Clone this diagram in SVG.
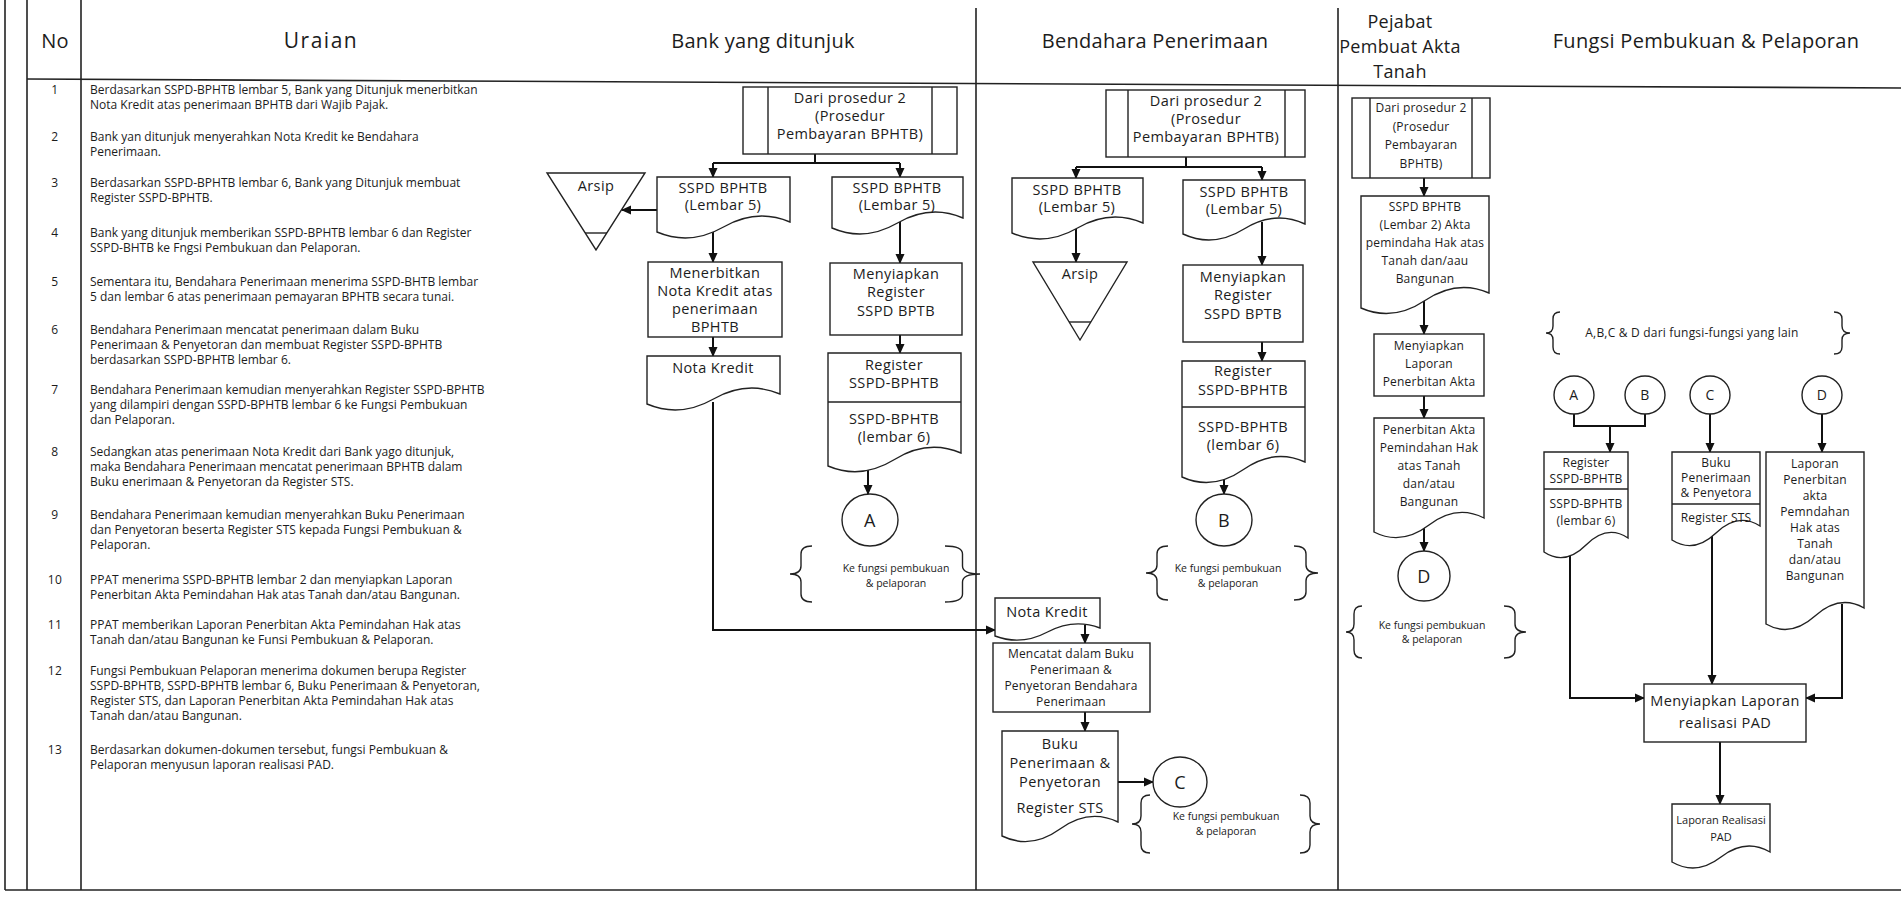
<svg xmlns="http://www.w3.org/2000/svg" width="1901" height="906" viewBox="0 0 1901 906">
<defs>
<marker id="ah" viewBox="0 0 10 10" refX="9" refY="5" markerWidth="10" markerHeight="10" markerUnits="userSpaceOnUse" orient="auto"><path d="M0,0.5 L10,5 L0,9.5 Z" fill="#111"/></marker>
<style>
.fr{fill:none;stroke:#222;stroke-width:1.6}
.s{fill:#fff;stroke:#222;stroke-width:1.4}
.ln{fill:none;stroke:#222;stroke-width:1.4}
.c{fill:none;stroke:#111;stroke-width:2}
.a{marker-end:url(#ah)}
.br{fill:none;stroke:#222;stroke-width:1.4}
text{font-family:"Open Sans","Noto Sans","DejaVu Sans",sans-serif;fill:#1c1c1c;letter-spacing:0.4px}
.h{font-size:20px;text-anchor:middle;letter-spacing:0.3px}
.r{font-size:12px;letter-spacing:0}
.n{font-size:12px;text-anchor:middle}
.b{font-size:14.5px;text-anchor:middle}
.p{font-size:12px;text-anchor:middle;letter-spacing:0.2px}
.k{font-size:10.5px;text-anchor:middle;letter-spacing:0}
.l{font-size:18px;text-anchor:middle}
.ls{font-size:14px;text-anchor:middle}
</style>
</defs>
<rect width="1901" height="906" fill="#fff"/>

<g id="frame">
<path class="fr" d="M5,0 V890"/>
<path class="fr" d="M27,0 V890"/>
<path class="fr" d="M81,0 V890"/>
<path class="fr" d="M27,79 L1901,88"/>
<path class="fr" d="M976,8 V890"/>
<path class="fr" d="M1338,8 V890"/>
<path class="fr" d="M5,890 H1901"/>
</g>

<g id="headers">
<text class="h" x="55" y="48">No</text>
<text class="h" x="321" y="48" style="font-size:21px;letter-spacing:1.5px">Uraian</text>
<text class="h" x="763" y="48">Bank yang ditunjuk</text>
<text class="h" x="1155" y="48">Bendahara Penerimaan</text>
<text class="h" x="1400" y="28" style="font-size:18px">Pejabat<tspan x="1400" dy="25">Pembuat Akta</tspan><tspan x="1400" dy="25">Tanah</tspan></text>
<text class="h" x="1706" y="48">Fungsi Pembukuan &amp; Pelaporan</text>
</g>

<g id="uraian">
<text class="n" x="55" y="94">1</text>
<text class="r" x="90" y="94">Berdasarkan SSPD-BPHTB lembar 5, Bank yang Ditunjuk menerbitkan<tspan x="90" dy="15">Nota Kredit atas penerimaan BPHTB dari Wajib Pajak.</tspan></text>
<text class="n" x="55" y="141">2</text>
<text class="r" x="90" y="141">Bank yan ditunjuk menyerahkan Nota Kredit ke Bendahara<tspan x="90" dy="15">Penerimaan.</tspan></text>
<text class="n" x="55" y="187">3</text>
<text class="r" x="90" y="187">Berdasarkan SSPD-BPHTB lembar 6, Bank yang Ditunjuk membuat<tspan x="90" dy="15">Register SSPD-BPHTB.</tspan></text>
<text class="n" x="55" y="237">4</text>
<text class="r" x="90" y="237">Bank yang ditunjuk memberikan SSPD-BPHTB lembar 6 dan Register<tspan x="90" dy="15">SSPD-BHTB ke Fngsi Pembukuan dan Pelaporan.</tspan></text>
<text class="n" x="55" y="286">5</text>
<text class="r" x="90" y="286">Sementara itu, Bendahara Penerimaan menerima SSPD-BHTB lembar<tspan x="90" dy="15">5 dan lembar 6 atas penerimaan pemayaran BPHTB secara tunai.</tspan></text>
<text class="n" x="55" y="334">6</text>
<text class="r" x="90" y="334">Bendahara Penerimaan mencatat penerimaan dalam Buku<tspan x="90" dy="15">Penerimaan &amp; Penyetoran dan membuat Register SSPD-BPHTB</tspan><tspan x="90" dy="15">berdasarkan SSPD-BPHTB lembar 6.</tspan></text>
<text class="n" x="55" y="394">7</text>
<text class="r" x="90" y="394">Bendahara Penerimaan kemudian menyerahkan Register SSPD-BPHTB<tspan x="90" dy="15">yang dilampiri dengan SSPD-BPHTB lembar 6 ke Fungsi Pembukuan</tspan><tspan x="90" dy="15">dan Pelaporan.</tspan></text>
<text class="n" x="55" y="456">8</text>
<text class="r" x="90" y="456">Sedangkan atas penerimaan Nota Kredit dari Bank yago ditunjuk,<tspan x="90" dy="15">maka Bendahara Penerimaan mencatat penerimaan BPHTB dalam</tspan><tspan x="90" dy="15">Buku enerimaan &amp; Penyetoran da Register STS.</tspan></text>
<text class="n" x="55" y="519">9</text>
<text class="r" x="90" y="519">Bendahara Penerimaan kemudian menyerahkan Buku Penerimaan<tspan x="90" dy="15">dan Penyetoran beserta Register STS kepada Fungsi Pembukuan &amp;</tspan><tspan x="90" dy="15">Pelaporan.</tspan></text>
<text class="n" x="55" y="584">10</text>
<text class="r" x="90" y="584">PPAT menerima SSPD-BPHTB lembar 2 dan menyiapkan Laporan<tspan x="90" dy="15">Penerbitan Akta Pemindahan Hak atas Tanah dan/atau Bangunan.</tspan></text>
<text class="n" x="55" y="629">11</text>
<text class="r" x="90" y="629">PPAT memberikan Laporan Penerbitan Akta Pemindahan Hak atas<tspan x="90" dy="15">Tanah dan/atau Bangunan ke Funsi Pembukuan &amp; Pelaporan.</tspan></text>
<text class="n" x="55" y="675">12</text>
<text class="r" x="90" y="675">Fungsi Pembukuan Pelaporan menerima dokumen berupa Register<tspan x="90" dy="15">SSPD-BPHTB, SSPD-BPHTB lembar 6, Buku Penerimaan &amp; Penyetoran,</tspan><tspan x="90" dy="15">Register STS, dan Laporan Penerbitan Akta Pemindahan Hak atas</tspan><tspan x="90" dy="15">Tanah dan/atau Bangunan.</tspan></text>
<text class="n" x="55" y="754">13</text>
<text class="r" x="90" y="754">Berdasarkan dokumen-dokumen tersebut, fungsi Pembukuan &amp;<tspan x="90" dy="15">Pelaporan menyusun laporan realisasi PAD.</tspan></text>
</g>

<g id="connectors">
<path class="c" d="M815,154 V163"/>
<path class="c" d="M713,163 H900"/>
<path class="c a" d="M713,163 V177"/>
<path class="c a" d="M900,163 V177"/>
<path class="c a" d="M657,210 H622"/>
<path class="c a" d="M713,230 V262"/>
<path class="c a" d="M713,337 V356"/>
<path class="c a" d="M900,222 V263"/>
<path class="c a" d="M900,335 V353"/>
<path class="c a" d="M868,470 V494"/>
<path class="c a" d="M713,402 V630 H995"/>
<path class="c" d="M1186,157 V167"/>
<path class="c" d="M1076,167 H1262"/>
<path class="c a" d="M1076,167 V178"/>
<path class="c a" d="M1262,167 V180"/>
<path class="c a" d="M1076,229 V262"/>
<path class="c a" d="M1262,222 V265"/>
<path class="c a" d="M1262,342 V361"/>
<path class="c a" d="M1224,476 V494"/>
<path class="c a" d="M1085,625 V643"/>
<path class="c a" d="M1085,712 V731"/>
<path class="c a" d="M1118,782 H1153"/>
<path class="c a" d="M1424,178 V196"/>
<path class="c a" d="M1424,300 V334"/>
<path class="c a" d="M1424,396 V418"/>
<path class="c a" d="M1424,525 V551"/>
<path class="c" d="M1574,414 V426 H1645 V414"/>
<path class="c a" d="M1610,426 V452"/>
<path class="c a" d="M1710,414 V452"/>
<path class="c a" d="M1822,414 V452"/>
<path class="c a" d="M1570,556 V698 H1644"/>
<path class="c a" d="M1712,535 V684"/>
<path class="c a" d="M1842,604 V698 H1806"/>
<path class="c a" d="M1720,742 V804"/>
</g>

<g id="bank-dari">
<rect class="s" x="743" y="87" width="214" height="67"/>
<path class="ln" d="M768,87 V154 M932,87 V154"/>
<text class="b" x="850" y="103">Dari prosedur 2<tspan x="850" dy="18">(Prosedur</tspan><tspan x="850" dy="18">Pembayaran BPHTB)</tspan></text>
</g>
<g id="bank-sspd5-a">
<path class="s" d="M657,232 V177 H790 V222 Q756.75,208 723.5,227 Q690.25,246 657,232 Z"/>
<text class="b" x="723" y="193">SSPD BPHTB<tspan x="723" dy="17">(Lembar 5)</tspan></text>
</g>
<g id="bank-arsip">
<path class="s" d="M547,173 H645 L596,250 Z"/>
<path class="ln" d="M585,233 H607"/>
<text class="b" x="596" y="191">Arsip</text>
</g>
<g id="bank-sspd5-b">
<path class="s" d="M832,228 V177 H963 V218 Q930.25,204 897.5,223 Q864.75,242 832,228 Z"/>
<text class="b" x="897" y="193">SSPD BPHTB<tspan x="897" dy="17">(Lembar 5)</tspan></text>
</g>
<g id="bank-menerbitkan">
<rect class="s" x="648" y="262" width="134" height="75"/>
<text class="b" x="715" y="278">Menerbitkan<tspan x="715" dy="18">Nota Kredit atas</tspan><tspan x="715" dy="18">penerimaan</tspan><tspan x="715" dy="18">BPHTB</tspan></text>
</g>
<g id="bank-notakredit">
<path class="s" d="M647,404 V356 H780 V394 Q746.75,380 713.5,399 Q680.25,418 647,404 Z"/>
<text class="b" x="713" y="373">Nota Kredit</text>
</g>
<g id="bank-menyiapkan">
<rect class="s" x="830" y="263" width="132" height="72"/>
<text class="b" x="896" y="279">Menyiapkan<tspan x="896" dy="18">Register</tspan><tspan x="896" dy="19">SSPD BPTB</tspan></text>
</g>
<g id="bank-register">
<path class="s" d="M828,466 V353 H961 V453 Q927.75,439 894.5,459.5 Q861.25,480 828,466 Z"/>
<path class="ln" d="M828,402 H961"/>
<text class="b" x="894" y="370">Register<tspan x="894" dy="18">SSPD-BPHTB</tspan><tspan x="894" dy="36">SSPD-BPHTB</tspan><tspan x="894" dy="18">(lembar 6)</tspan></text>
</g>
<g id="bank-a">
<ellipse class="s" cx="870" cy="520" rx="28" ry="26"/>
<text class="l" x="870" y="527">A</text>
</g>
<g id="bank-ket">
<path class="br" d="M812,546 Q801,546 801,554 V566 Q801,574 790,574 Q801,574 801,582 V594 Q801,602 812,602"/>
<path class="br" d="M945,546 Q962.5,546 962.5,554 V566 Q962.5,574 980,574 Q962.5,574 962.5,582 V594 Q962.5,602 945,602"/>
<text class="k" x="896" y="572">Ke fungsi pembukuan<tspan x="896" dy="15">&amp; pelaporan</tspan></text>
</g>

<g id="bend-dari">
<rect class="s" x="1106" y="90" width="199" height="67"/>
<path class="ln" d="M1128,90 V157 M1285,90 V157"/>
<text class="b" x="1206" y="106">Dari prosedur 2<tspan x="1206" dy="18">(Prosedur</tspan><tspan x="1206" dy="18">Pembayaran BPHTB)</tspan></text>
</g>
<g id="bend-sspd5-a">
<path class="s" d="M1012,233 V178 H1143 V223 Q1110.25,209 1077.5,228 Q1044.75,247 1012,233 Z"/>
<text class="b" x="1077" y="195">SSPD BPHTB<tspan x="1077" dy="17">(Lembar 5)</tspan></text>
</g>
<g id="bend-arsip">
<path class="s" d="M1033,262 H1127 L1080,340 Z"/>
<path class="ln" d="M1069,322 H1091"/>
<text class="b" x="1080" y="279">Arsip</text>
</g>
<g id="bend-sspd5-b">
<path class="s" d="M1183,234 V180 H1305 V224 Q1274.5,210 1244,229 Q1213.5,248 1183,234 Z"/>
<text class="b" x="1244" y="197">SSPD BPHTB<tspan x="1244" dy="17">(Lembar 5)</tspan></text>
</g>
<g id="bend-menyiapkan">
<rect class="s" x="1183" y="265" width="120" height="77"/>
<text class="b" x="1243" y="282">Menyiapkan<tspan x="1243" dy="18">Register</tspan><tspan x="1243" dy="19">SSPD BPTB</tspan></text>
</g>
<g id="bend-register">
<path class="s" d="M1182,477 V361 H1305 V462 Q1274.25,448 1243.5,469.5 Q1212.75,491 1182,477 Z"/>
<path class="ln" d="M1182,407 H1305"/>
<text class="b" x="1243" y="376">Register<tspan x="1243" dy="19">SSPD-BPHTB</tspan><tspan x="1243" dy="37">SSPD-BPHTB</tspan><tspan x="1243" dy="18">(lembar 6)</tspan></text>
</g>
<g id="bend-b">
<ellipse class="s" cx="1224" cy="520" rx="28" ry="26"/>
<text class="l" x="1224" y="527">B</text>
</g>
<g id="bend-ket-1">
<path class="br" d="M1168,546 Q1157,546 1157,554 V565 Q1157,573 1146,573 Q1157,573 1157,581 V592 Q1157,600 1168,600"/>
<path class="br" d="M1294,546 Q1306,546 1306,554 V565 Q1306,573 1318,573 Q1306,573 1306,581 V592 Q1306,600 1294,600"/>
<text class="k" x="1228" y="572">Ke fungsi pembukuan<tspan x="1228" dy="15">&amp; pelaporan</tspan></text>
</g>
<g id="bend-notakredit">
<path class="s" d="M995,636 V598 H1100 V628 Q1073.75,618 1047.5,632 Q1021.25,646 995,636 Z"/>
<text class="b" x="1047" y="617">Nota Kredit</text>
</g>
<g id="bend-mencatat">
<rect class="s" x="993" y="643" width="157" height="69"/>
<text class="p" x="1071" y="658">Mencatat dalam Buku<tspan x="1071" dy="16">Penerimaan &amp;</tspan><tspan x="1071" dy="16">Penyetoran Bendahara</tspan><tspan x="1071" dy="16">Penerimaan</tspan></text>
</g>
<g id="bend-buku">
<path class="s" d="M1002,836 V731 H1118 V822 Q1089,808 1060,829 Q1031,850 1002,836 Z"/>
<text class="b" x="1060" y="749">Buku<tspan x="1060" dy="19">Penerimaan &amp;</tspan><tspan x="1060" dy="19">Penyetoran</tspan><tspan x="1060" dy="26">Register STS</tspan></text>
</g>
<g id="bend-c">
<ellipse class="s" cx="1180" cy="782" rx="27" ry="25"/>
<text class="l" x="1180" y="789">C</text>
</g>
<g id="bend-ket-2">
<path class="br" d="M1150,795 Q1141,795 1141,803 V816 Q1141,824 1132,824 Q1141,824 1141,832 V845 Q1141,853 1150,853"/>
<path class="br" d="M1300,795 Q1310,795 1310,803 V816 Q1310,824 1320,824 Q1310,824 1310,832 V845 Q1310,853 1300,853"/>
<text class="k" x="1226" y="820">Ke fungsi pembukuan<tspan x="1226" dy="15">&amp; pelaporan</tspan></text>
</g>

<g id="ppat-dari">
<rect class="s" x="1352" y="98" width="138" height="80"/>
<path class="ln" d="M1370,98 V178 M1472,98 V178"/>
<text class="p" x="1421" y="112">Dari prosedur 2<tspan x="1421" dy="18.5">(Prosedur</tspan><tspan x="1421" dy="18.5">Pembayaran</tspan><tspan x="1421" dy="18.5">BPHTB)</tspan></text>
</g>
<g id="ppat-sspd2">
<path class="s" d="M1361,308 V196 H1489 V293 Q1457,279 1425,300.5 Q1393,322 1361,308 Z"/>
<text class="p" x="1425" y="211">SSPD BPHTB<tspan x="1425" dy="18">(Lembar 2) Akta</tspan><tspan x="1425" dy="18">pemindaha Hak atas</tspan><tspan x="1425" dy="18">Tanah dan/aau</tspan><tspan x="1425" dy="18">Bangunan</tspan></text>
</g>
<g id="ppat-menyiapkan">
<rect class="s" x="1374" y="334" width="110" height="62"/>
<text class="p" x="1429" y="350">Menyiapkan<tspan x="1429" dy="18">Laporan</tspan><tspan x="1429" dy="18">Penerbitan Akta</tspan></text>
</g>
<g id="ppat-penerbitan">
<path class="s" d="M1374,532 V418 H1484 V518 Q1456.5,504 1429,525 Q1401.5,546 1374,532 Z"/>
<text class="p" x="1429" y="434">Penerbitan Akta<tspan x="1429" dy="18">Pemindahan Hak</tspan><tspan x="1429" dy="18">atas Tanah</tspan><tspan x="1429" dy="18">dan/atau</tspan><tspan x="1429" dy="18">Bangunan</tspan></text>
</g>
<g id="ppat-d">
<ellipse class="s" cx="1424" cy="576" rx="26" ry="25"/>
<text class="l" x="1424" y="583">D</text>
</g>
<g id="ppat-ket">
<path class="br" d="M1362,606 Q1354,606 1354,614 V624 Q1354,632 1346,632 Q1354,632 1354,640 V650 Q1354,658 1362,658"/>
<path class="br" d="M1504,606 Q1515,606 1515,614 V624 Q1515,632 1526,632 Q1515,632 1515,640 V650 Q1515,658 1504,658"/>
<text class="k" x="1432" y="629">Ke fungsi pembukuan<tspan x="1432" dy="14">&amp; pelaporan</tspan></text>
</g>

<g id="fp-ket">
<path class="br" d="M1560,312 Q1553,312 1553,319 V326 Q1553,333 1546,333 Q1553,333 1553,340 V347 Q1553,354 1560,354"/>
<path class="br" d="M1834,312 Q1842,312 1842,319 V326 Q1842,333 1850,333 Q1842,333 1842,340 V347 Q1842,354 1834,354"/>
<text class="p" x="1692" y="337">A,B,C &amp; D dari fungsi-fungsi yang lain</text>
</g>
<g id="fp-a">
<ellipse class="s" cx="1574" cy="395" rx="20" ry="19"/>
<text class="ls" x="1574" y="400">A</text>
</g>
<g id="fp-b">
<ellipse class="s" cx="1645" cy="395" rx="20" ry="19"/>
<text class="ls" x="1645" y="400">B</text>
</g>
<g id="fp-c">
<ellipse class="s" cx="1710" cy="395" rx="20" ry="19"/>
<text class="ls" x="1710" y="400">C</text>
</g>
<g id="fp-d">
<ellipse class="s" cx="1822" cy="395" rx="20" ry="19"/>
<text class="ls" x="1822" y="400">D</text>
</g>
<g id="fp-register">
<path class="s" d="M1544,552 V452 H1628 V538 Q1607,524 1586,545 Q1565,566 1544,552 Z"/>
<path class="ln" d="M1544,489 H1628"/>
<text class="p" x="1586" y="467">Register<tspan x="1586" dy="16">SSPD-BPHTB</tspan><tspan x="1586" dy="25">SSPD-BPHTB</tspan><tspan x="1586" dy="17">(lembar 6)</tspan></text>
</g>
<g id="fp-buku">
<path class="s" d="M1672,540 V452 H1760 V526 Q1738,512 1716,533 Q1694,554 1672,540 Z"/>
<path class="ln" d="M1672,504 H1760"/>
<text class="p" x="1716" y="467">Buku<tspan x="1716" dy="15">Penerimaan</tspan><tspan x="1716" dy="15">&amp; Penyetora</tspan><tspan x="1716" dy="25">Register STS</tspan></text>
</g>
<g id="fp-laporan">
<path class="s" d="M1766,624 V452 H1864 V608 Q1839.5,594 1815,616 Q1790.5,638 1766,624 Z"/>
<text class="p" x="1815" y="468">Laporan<tspan x="1815" dy="16">Penerbitan</tspan><tspan x="1815" dy="16">akta</tspan><tspan x="1815" dy="16">Pemndahan</tspan><tspan x="1815" dy="16">Hak atas</tspan><tspan x="1815" dy="16">Tanah</tspan><tspan x="1815" dy="16">dan/atau</tspan><tspan x="1815" dy="16">Bangunan</tspan></text>
</g>
<g id="fp-menyiapkan">
<rect class="s" x="1644" y="684" width="162" height="58"/>
<text class="p" x="1725" y="706" style="font-size:14.5px;letter-spacing:0.4px">Menyiapkan Laporan<tspan x="1725" dy="22">realisasi PAD</tspan></text>
</g>
<g id="fp-laporan-pad">
<path class="s" d="M1672,862 V804 H1770 V852 Q1745.5,838 1721,857 Q1696.5,876 1672,862 Z"/>
<text class="p" x="1721" y="824" style="font-size:11px;letter-spacing:0">Laporan Realisasi<tspan x="1721" dy="17">PAD</tspan></text>
</g>
</svg>
